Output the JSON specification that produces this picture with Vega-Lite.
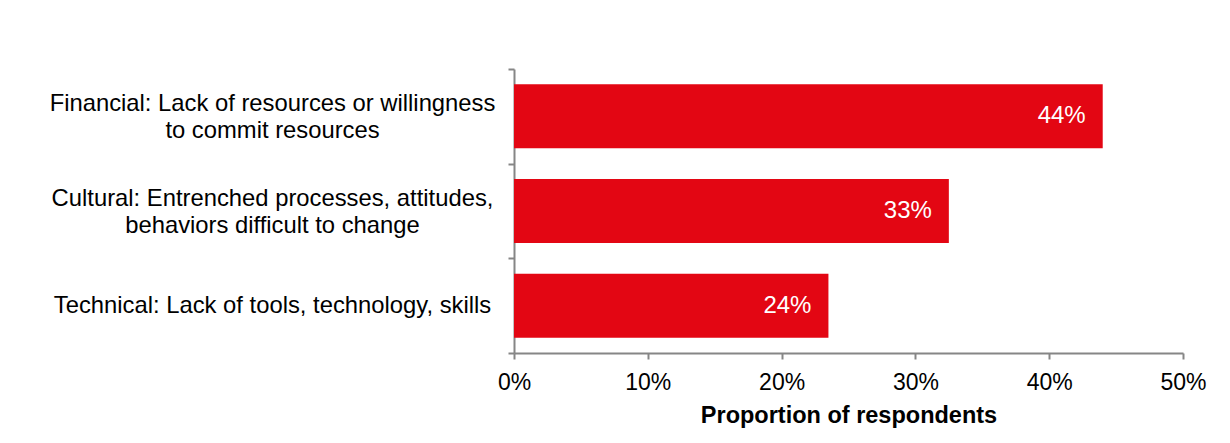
{
  "$schema": "https://vega.github.io/schema/vega-lite/v6.json",
  "autosize": {"type": "none"},
  "width": 669,
  "height": 284,
  "padding": {"left": 514, "top": 69, "right": 47, "bottom": 90},
  "background": "white",
  "config": {"font": "Liberation Sans", "view": {"stroke": null}},
  "data": {
    "values": [
      {"barrier": "Financial: Lack of resources or willingness\nto commit resources", "value": 0.44, "label": "44%"},
      {"barrier": "Cultural: Entrenched processes, attitudes,\nbehaviors difficult to change", "value": 0.325, "label": "33%"},
      {"barrier": "Technical: Lack of tools, technology, skills", "value": 0.235, "label": "24%"}
    ]
  },
  "encoding": {
    "y": {
      "field": "barrier",
      "type": "nominal",
      "sort": null,
      "scale": {"paddingInner": 0, "paddingOuter": 0},
      "axis": {
        "title": null,
        "labelAlign": "center",
        "labelBaseline": "middle",
        "labelPadding": 236,
        "labelOffset": {"condition": {"test": "datum.value && indexof(datum.value, '\\n') >= 0", "value": -13}, "value": 0},
        "labelLimit": 0,
        "tickSize": 6,
        "tickBand": "extent",
        "labelExpr": "datum.value ? split(datum.value, '\\n') : ''",
        "labelLineHeight": 27,
        "labelFontSize": 23.8,
        "labelColor": "#000000",
        "domainColor": "#868686",
        "tickColor": "#868686",
        "domainWidth": 2,
        "tickWidth": 2
      }
    },
    "x": {
      "field": "value",
      "type": "quantitative",
      "scale": {"domain": [0, 0.5]},
      "axis": {
        "format": ".0%",
        "values": [0, 0.1, 0.2, 0.3, 0.4, 0.5],
        "grid": false,
        "title": "Proportion of respondents",
        "titleFontSize": 23.5,
        "titleFontWeight": "bold",
        "titleColor": "#000000",
        "titlePadding": 9,
        "labelFontSize": 23,
        "labelColor": "#000000",
        "labelPadding": 12,
        "labelFlush": false,
        "tickSize": 6,
        "domainColor": "#868686",
        "tickColor": "#868686",
        "domainWidth": 2,
        "tickWidth": 2
      }
    }
  },
  "layer": [
    {"mark": {"type": "bar", "color": "#E30613", "height": {"band": 0.676}}},
    {
      "mark": {"type": "text", "align": "right", "baseline": "middle", "dx": -17, "color": "white", "fontSize": 24},
      "encoding": {"text": {"field": "label"}}
    }
  ]
}
